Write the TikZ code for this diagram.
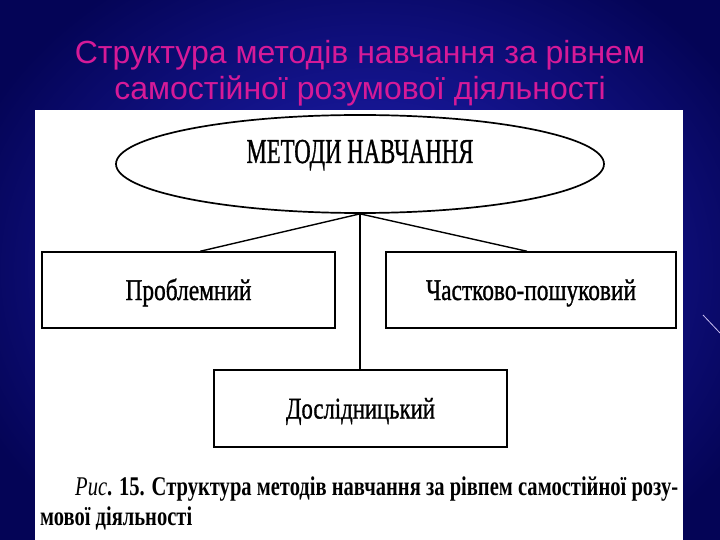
\documentclass[tikz,border=0pt]{standalone}
\usepackage{fontspec}
\setmainfont{Liberation Serif}
\newfontfamily\titlefont{Liberation Sans}
\newfontfamily\bookfont[FakeBold=1.2]{Liberation Serif}
\newfontfamily\capfont{Liberation Serif}
\usetikzlibrary{shapes.geometric,calc}
\definecolor{titlepink}{RGB}{214,26,152}
\definecolor{bgin}{RGB}{36,36,196}
\definecolor{bgout}{RGB}{4,4,86}
\definecolor{streak}{RGB}{200,190,240}
\newcommand\fitw[2]{\resizebox{#1}{\height}{#2}}
\tikzset{
  titletext/.style={font=\titlefont\fontsize{32}{38}\selectfont, text=titlepink, inner sep=0pt, anchor=base},
  methodbox/.style={draw, line width=1.5pt, rectangle, inner sep=0pt, text height=20pt, text depth=0pt},
  boxtext/.style={font=\bookfont\fontsize{30}{36}\selectfont},
  captext/.style={font=\capfont\bfseries\fontsize{27}{32}\selectfont, inner sep=0pt, anchor=base west},
  link/.style={line width=1.4pt}
}
\begin{document}
\begin{tikzpicture}[x=1pt,y=-1pt]
\useasboundingbox (0,0) rectangle (720,540);
\shade[inner color=bgin, outer color=bgout] (-60,-80) rectangle (800,620);
\draw[streak, line width=0.8pt] (703,315) -- (720,333);
% title
\node[titletext] (t1) at (360,64) {Структура методів навчання за рівнем};
\node[titletext] (t2) at (360,100) {самостійної розумової діяльності};
% white panel
\fill[white] (35,110) rectangle (683,540);
% ellipse
\node[ellipse, draw, line width=1.7pt, minimum width=488pt, minimum height=98pt, inner sep=0pt] (e) at (360,164) {};
\node[inner sep=0pt, anchor=base, boxtext] (et) at (360,163) {\fitw{227pt}{\fontsize{35}{40}\selectfont МЕТОДИ НАВЧАННЯ}};
% boxes
\node[methodbox, minimum width=293pt, minimum height=76pt, boxtext] (l) at (188.5,290) {\fitw{126pt}{Проблемний}};
\node[methodbox, minimum width=290pt, minimum height=76pt, boxtext] (r) at (531,290) {\fitw{210pt}{Частково-пошуковий}};
\node[methodbox, minimum width=293pt, minimum height=77pt, boxtext] (d) at (360.5,408.5) {\fitw{149pt}{Дослідницький}};
% connectors
\draw[link] (e.south) -- ($(l.north west)!0.54!(l.north east)$);
\draw[link] (e.south) -- ($(r.north west)!0.486!(r.north east)$);
\draw[link] (e.south) -- (e.south |- d.north);
% caption
\node[captext] (c1) at (75,495) {\fitw{603pt}{\textit{\mdseries Рис}. 15. Структура методів навчання за рівпем самостійної розу-}};
\node[captext] (c2) at (40,525) {\fitw{152pt}{мової діяльності}};
\end{tikzpicture}
\end{document}
